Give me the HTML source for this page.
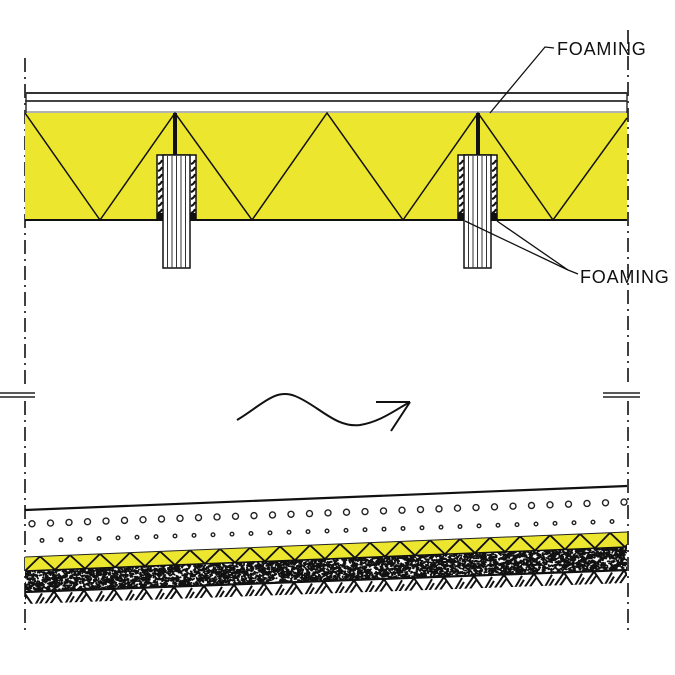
<!DOCTYPE html>
<html><head><meta charset="utf-8"><style>
html,body{margin:0;padding:0;background:#fff;}
svg{display:block}
text{font-family:"Liberation Sans",sans-serif;font-size:18px;letter-spacing:0.8px;fill:#111}
</style></head><body>
<svg id="s" width="675" height="675" viewBox="0 0 675 675" xmlns="http://www.w3.org/2000/svg">
<defs>
<clipPath id="noiseClip"><polygon points="25,571 627,547 627,570 25,592"/></clipPath>
<clipPath id="hatchClip"><polygon points="25,592 627,570 627,583 25,604"/></clipPath>
<clipPath id="yClip"><polygon points="25,557 627,532 627,547 25,571"/></clipPath>
</defs>
<g stroke="#111" stroke-width="1.6" stroke-dasharray="14,5,2,5">
<line x1="25" y1="58" x2="25" y2="384"/><line x1="25" y1="401" x2="25" y2="632"/>
<line x1="628" y1="30" x2="628" y2="384"/><line x1="628" y1="401" x2="628" y2="632"/>
</g>
<g stroke="#222" stroke-width="1.5">
<line x1="0" y1="393" x2="35" y2="393"/><line x1="0" y1="397" x2="35" y2="397"/>
<line x1="603" y1="393" x2="640" y2="393"/><line x1="603" y1="397" x2="640" y2="397"/>
</g>
<rect x="25" y="113" width="602" height="107" fill="#ece62f"/>
<line x1="25" y1="93" x2="627" y2="93" stroke="#333" stroke-width="2"/>
<line x1="25" y1="101" x2="627" y2="101" stroke="#444" stroke-width="2"/>
<line x1="25" y1="112" x2="627" y2="112" stroke="#999" stroke-width="1.5"/>
<line x1="25" y1="220" x2="627" y2="220" stroke="#111" stroke-width="2"/>
<line x1="26" y1="93" x2="26" y2="113" stroke="#333" stroke-width="1.5"/>
<line x1="627" y1="93" x2="627" y2="113" stroke="#333" stroke-width="1.5"/>
<polyline points="25,113 100,220 175,113 252,220 327,113 403,220 478,113 553,220 627,118" fill="none" stroke="#111" stroke-width="1.5"/>
<g id="studs"></g>
<g stroke="#111" stroke-width="1.3" fill="none">
<polyline points="554,48 545,47 490,113"/>
<line x1="465" y1="221" x2="568" y2="270"/>
<line x1="497" y1="221" x2="568" y2="270"/>
<line x1="568" y1="270" x2="578" y2="274"/>
</g>
<text x="557" y="55">FOAMING</text>
<text x="580" y="283">FOAMING</text>
<g stroke="#111" stroke-width="2" fill="none">
<path d="M237,420 C262,405 275,388 295,396 C318,405 335,428 360,425 C380,422 395,410 410,402"/>
<line x1="376" y1="402" x2="410" y2="402"/>
<line x1="410" y1="402" x2="391" y2="431"/>
</g>
<line x1="25" y1="510" x2="627" y2="486" stroke="#111" stroke-width="2.2"/>
<polygon points="25,557 627,532 627,547 25,571" fill="#ece62f"/>
<g id="dots" fill="none" stroke="#222" stroke-width="1.4"></g>
<g id="zig" clip-path="url(#yClip)" fill="none" stroke="#111" stroke-width="1.8"></g>
<line x1="25" y1="557" x2="627" y2="532" stroke="#222" stroke-width="1"/>
<line x1="25" y1="571" x2="627" y2="547" stroke="#111" stroke-width="1.6"/>
<g id="noise" clip-path="url(#noiseClip)"></g>
<line x1="25" y1="592" x2="627" y2="570" stroke="#111" stroke-width="2.2"/>
<g id="hatch" clip-path="url(#hatchClip)" stroke="#111" stroke-width="2" fill="none"></g>
</svg>
<script>
var NS="http://www.w3.org/2000/svg";
function el(p,t,a){var e=document.createElementNS(NS,t);for(var k in a)e.setAttribute(k,a[k]);p.appendChild(e);return e;}
var seed=7;function rnd(){seed=(seed*16807)%2147483647;return seed/2147483647;}
var st=document.getElementById('studs');
[[157,175],[458,478]].forEach(function(v){
 var x=v[0],cx=v[1];
 el(st,'rect',{x:x,y:155,width:39,height:65,fill:'#fff',stroke:'#111','stroke-width':1.5});
 el(st,'rect',{x:x+6,y:155,width:27,height:113,fill:'#fff',stroke:'#111','stroke-width':1.5});
 for(var i=1;i<6;i++){el(st,'line',{x1:x+6+i*4.5,y1:156,x2:x+6+i*4.5,y2:268,stroke:'#333','stroke-width':1});}
 for(var y=160;y<215;y+=7){
  el(st,'path',{d:'M'+(x+1)+','+(y+4)+' q3,-1 4,-4',stroke:'#111','stroke-width':2,fill:'none'});
  el(st,'path',{d:'M'+(x+34)+','+(y+4)+' q3,-1 4,-4',stroke:'#111','stroke-width':2,fill:'none'});
 }
 el(st,'rect',{x:x,y:213,width:6,height:7,fill:'#111'});
 el(st,'rect',{x:x+33,y:213,width:6,height:7,fill:'#111'});
 el(st,'rect',{x:cx-2,y:113,width:4,height:42,fill:'#111'});
});
function yAt(y0,y1,x){return y0+(y1-y0)*(x-25)/602;}
var d=document.getElementById('dots');
for(var x=32;x<625;x+=18.5){el(d,'circle',{cx:x,cy:yAt(524,502,x),r:3});}
for(var x=42;x<625;x+=19){el(d,'circle',{cx:x,cy:yAt(541,521,x),r:1.8});}
var z=document.getElementById('zig');var pts=[];
for(var x=25,i=0;x<=640;x+=15,i++){pts.push(x+','+(i%2?yAt(557,532,x):yAt(571,547,x)));}
el(z,'polyline',{points:pts.join(' ')});
var n=document.getElementById('noise');var s='';
for(var i=0;i<4200;i++){var x=25+rnd()*602,y=yAt(571,547,x)+rnd()*22;
 s+='M'+x.toFixed(1)+','+y.toFixed(1)+'l'+(rnd()*5-2.5).toFixed(1)+','+(rnd()*3-1.5).toFixed(1);}
el(n,'path',{d:s,stroke:'#111','stroke-width':1.8,fill:'none','stroke-linecap':'round'});
var h=document.getElementById('hatch');var s2='';
for(var x=15;x<640;x+=30){var y0=yAt(592,570,x);
 s2+='M'+x+','+(y0+13)+'l9,-13l9,13M'+(x+5)+','+(y0+13)+'l7,-10M'+(x+20)+','+(y0+13)+'l7,-12M'+(x+24)+','+(y0+13)+'l5,-8';}
el(h,'path',{d:s2});
</script>
</body></html>
